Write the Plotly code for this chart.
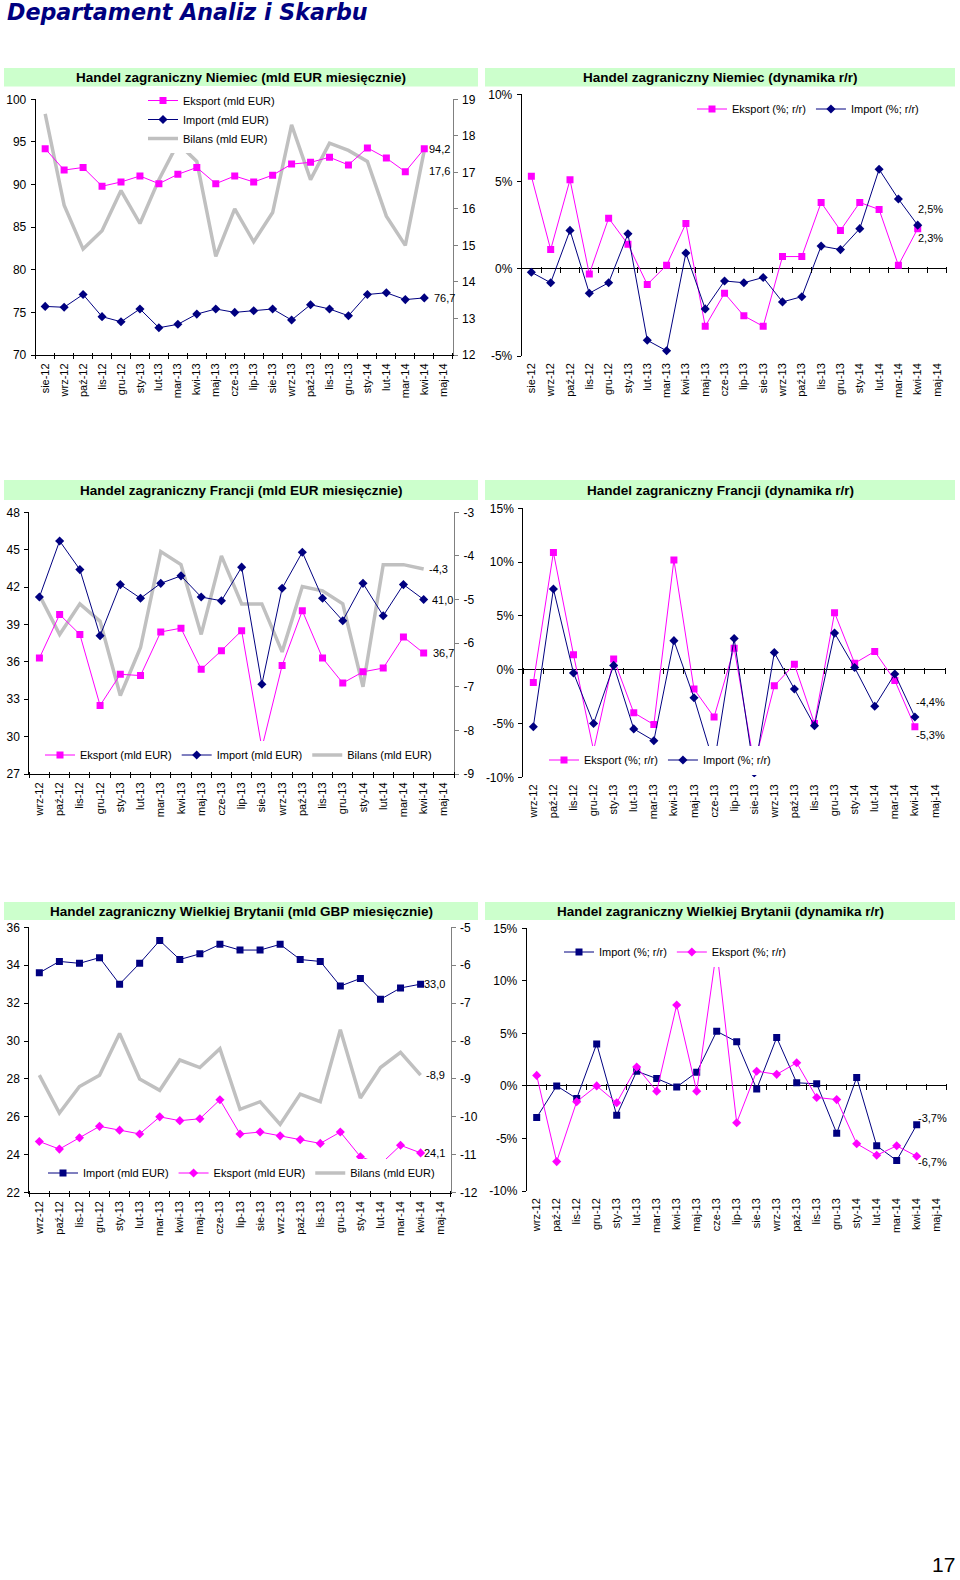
import plotly.graph_objects as go

W, H = 960, 1580
FONT = 'Liberation Sans, Arial, sans-serif'
PINK = '#ff00ff'
NAVY = '#000080'
GRAY = '#c0c0c0'
BAND = '#ccffcc'

# ---------------- data ----------------
months_de = ['sie-12', 'wrz-12', 'paź-12', 'lis-12', 'gru-12', 'sty-13', 'lut-13', 'mar-13',
             'kwi-13', 'maj-13', 'cze-13', 'lip-13', 'sie-13', 'wrz-13', 'paź-13', 'lis-13',
             'gru-13', 'sty-14', 'lut-14', 'mar-14', 'kwi-14', 'maj-14']
months_fr = ['wrz-12', 'paź-12', 'lis-12', 'gru-12', 'sty-13', 'lut-13', 'mar-13', 'kwi-13',
             'maj-13', 'cze-13', 'lip-13', 'sie-13', 'wrz-13', 'paź-13', 'lis-13', 'gru-13',
             'sty-14', 'lut-14', 'mar-14', 'kwi-14', 'maj-14']
months_uk = list(months_fr)

# Germany, bn EUR
de_exp = [94.2, 91.7, 92.0, 89.8, 90.3, 91.0, 90.1, 91.2, 92.0, 90.1, 91.0, 90.3, 91.1, 92.4,
          92.6, 93.2, 92.3, 94.3, 93.1, 91.5, 94.2]
de_imp = [75.7, 75.6, 77.1, 74.5, 73.9, 75.4, 73.2, 73.6, 74.8, 75.4, 75.0, 75.2, 75.4, 74.1,
          75.9, 75.4, 74.6, 77.1, 77.3, 76.5, 76.7]
de_bal = [18.6, 16.1, 14.9, 15.4, 16.5, 15.6, 16.8, 17.8, 17.3, 14.7, 16.0, 15.1, 15.9, 18.3,
          16.8, 17.8, 17.6, 17.3, 15.8, 15.0, 17.6]
# Germany, % y/y
de_exp_yy = [5.3, 1.1, 5.1, -0.3, 2.9, 1.4, -0.9, 0.2, 2.6, -3.3, -1.4, -2.7, -3.3, 0.7, 0.7,
             3.8, 2.2, 3.8, 3.4, 0.2, 2.3]
de_imp_yy = [-0.2, -0.8, 2.2, -1.4, -0.8, 2.0, -4.1, -4.7, 0.9, -2.3, -0.7, -0.8, -0.5, -1.9,
             -1.6, 1.3, 1.1, 2.3, 5.7, 4.0, 2.5]
# France, bn EUR
fr_exp = [36.3, 39.8, 38.2, 32.5, 35.0, 34.9, 38.4, 38.7, 35.4, 36.9, 38.5, 29.1, 35.7, 40.1,
          36.3, 34.3, 35.2, 35.5, 38.0, 36.7]
fr_imp = [41.2, 45.7, 43.4, 38.1, 42.2, 41.1, 42.3, 42.9, 41.2, 40.9, 43.6, 34.2, 41.9, 44.8,
          41.1, 39.3, 42.3, 39.7, 42.2, 41.0]
fr_bal = [-4.9, -5.8, -5.1, -5.5, -7.2, -6.1, -3.9, -4.2, -5.8, -4.0, -5.1, -5.1, -6.2, -4.7,
          -4.8, -5.1, -7.0, -4.2, -4.2, -4.3]
# France, % y/y
fr_exp_yy = [-1.2, 10.9, 1.4, -7.5, 1.0, -4.0, -5.1, 10.2, -1.8, -4.4, 2.0, -8.8, -1.5, 0.5,
             -5.0, 5.3, 0.6, 1.7, -1.0, -5.3]
fr_imp_yy = [-5.3, 7.5, -0.3, -5.0, 0.4, -5.5, -6.6, 2.7, -2.6, -8.8, 2.9, -9.6, 1.6, -1.8,
             -5.2, 3.4, 0.2, -3.4, -0.4, -4.4]
# United Kingdom, bn GBP
uk_imp = [33.6, 34.2, 34.1, 34.4, 33.0, 34.1, 35.3, 34.3, 34.6, 35.1, 34.8, 34.8, 35.1, 34.3,
          34.2, 32.9, 33.3, 32.2, 32.8, 33.0]
uk_exp = [24.7, 24.3, 24.9, 25.5, 25.3, 25.1, 26.0, 25.8, 25.9, 26.9, 25.1, 25.2, 25.0, 24.8,
          24.6, 25.2, 23.9, 23.5, 24.5, 24.1]
uk_bal = [-8.9, -9.9, -9.2, -8.9, -7.8, -9.0, -9.3, -8.5, -8.7, -8.2, -9.8, -9.6, -10.2, -9.4,
          -9.6, -7.7, -9.5, -8.7, -8.3, -8.9]
# United Kingdom, % y/y
uk_imp_yy = [-3.0, 0.0, -1.2, 4.0, -2.8, 1.4, 0.7, -0.1, 1.3, 5.2, 4.2, -0.3, 4.6, 0.3, 0.2,
             -4.5, 0.8, -5.7, -7.1, -3.7]
uk_exp_yy = [1.0, -7.2, -1.5, 0.0, -1.6, 1.8, -0.5, 7.7, -0.5, 13.0, -3.5, 1.4, 1.1, 2.2, -1.1,
             -1.3, -5.5, -6.6, -5.7, -6.7]

titles = ['Handel zagraniczny Niemiec (mld EUR miesięcznie)',
          'Handel zagraniczny Niemiec (dynamika r/r)',
          'Handel zagraniczny Francji (mld EUR miesięcznie)',
          'Handel zagraniczny Francji (dynamika r/r)',
          'Handel zagraniczny Wielkiej Brytanii (mld GBP miesięcznie)',
          'Handel zagraniczny Wielkiej Brytanii (dynamika r/r)']

# tick labels
de_left_vals = [70, 75, 80, 85, 90, 95, 100]
de_left_text = ['70', '75', '80', '85', '90', '95', '100']
de_right_vals = [12, 13, 14, 15, 16, 17, 18, 19]
de_right_text = ['12', '13', '14', '15', '16', '17', '18', '19']
de_yy_vals = [-5, 0, 5, 10]
de_yy_text = ['-5%', '0%', '5%', '10%']
fr_left_vals = [27, 30, 33, 36, 39, 42, 45, 48]
fr_left_text = ['27', '30', '33', '36', '39', '42', '45', '48']
fr_right_vals = [-9, -8, -7, -6, -5, -4, -3]
fr_right_text = ['-9', '-8', '-7', '-6', '-5', '-4', '-3']
yy15_vals = [-10, -5, 0, 5, 10, 15]
yy15_text = ['-10%', '-5%', '0%', '5%', '10%', '15%']
uk_left_vals = [22, 24, 26, 28, 30, 32, 34, 36]
uk_left_text = ['22', '24', '26', '28', '30', '32', '34', '36']
uk_right_vals = [-12, -11, -10, -9, -8, -7, -6, -5]
uk_right_text = ['-12', '-11', '-10', '-9', '-8', '-7', '-6', '-5']


# ---------------- helpers ----------------
def pad(v, n):
    return list(v) + [None] * (n - len(v))


def fx(p):
    return p / W


def fy(p):
    return 1 - p / H


def an(prefix, k):
    return prefix if k == 1 else f'{prefix}{k}'


def lk(prefix, k):
    return prefix if k == 1 else f'{prefix}{k}'


def num(v):
    return f'{v:.1f}'.replace('.', ',')


def pct(v):
    return f'{v:.1f}%'.replace('.', ',')


# plot-area geometry in pixels: x0, x1, ytop, ybottom
geo = {
    1: (35.7, 452.7, 99.3, 355.0),
    2: (521.7, 946.7, 94.3, 356.0),
    3: (29.3, 454.0, 512.3, 774.0),
    4: (523.3, 945.0, 508.3, 777.3),
    5: (29.3, 450.7, 927.3, 1192.7),
    6: (526.7, 946.7, 928.3, 1191.0),
}
bands = {1: (4, 478, 68, 86.5), 2: (485, 955, 68, 86.5),
         3: (4, 478, 480, 500), 4: (485, 955, 480, 500),
         5: (4, 478, 902, 920), 6: (485, 955, 902, 920)}
cats = {1: months_de, 2: months_de, 3: months_fr, 4: months_fr, 5: months_uk, 6: months_uk}

main_y = {
    1: ([12, 19], de_right_vals, de_right_text, 'right'),
    2: ([-5, 10], de_yy_vals, de_yy_text, 'left'),
    3: ([-9, -3], fr_right_vals, fr_right_text, 'right'),
    4: ([-10, 15], yy15_vals, yy15_text, 'left'),
    5: ([-12, -5], uk_right_vals, uk_right_text, 'right'),
    6: ([-10, 15], yy15_vals, yy15_text, 'left'),
}
left_over = {1: (7, [70, 100], de_left_vals, de_left_text),
             3: (8, [27, 48], fr_left_vals, fr_left_text),
             5: (9, [22, 36], uk_left_vals, uk_left_text)}

layout = dict(
    template='none',
    width=W, height=H, autosize=False,
    margin=dict(l=0, r=0, t=0, b=0, pad=0, autoexpand=False),
    paper_bgcolor='white', plot_bgcolor='white',
    font=dict(family=FONT, size=11, color='black'),
    showlegend=True, hovermode=False,
    shapes=[], annotations=[],
)

fig = go.Figure()

for k in range(1, 7):
    x0, x1, yt, yb = geo[k]
    xc = cats[k]
    n = len(xc)
    level = k in left_over
    rng, tv, tt, side = main_y[k]
    layout[lk('xaxis', k)] = dict(
        domain=[fx(x0), fx(x1)], anchor=an('y', k), type='category',
        categoryorder='array', categoryarray=xc, range=[-0.5, n - 0.5],
        tickangle=-90, ticks='', showline=level, linecolor='black', linewidth=1,
        tickfont=dict(size=11, family=FONT, color='black'), showgrid=False, zeroline=False,
        ticklabelstandoff=3 if level else 4, automargin=False, fixedrange=True)
    if level:
        tick_px = yb - 3
    else:
        zero_px = yt + (rng[1] / (rng[1] - rng[0])) * (yb - yt)
        tick_px = zero_px - 3
    layout[lk('xaxis', k + 6)] = dict(
        overlaying=an('x', k), anchor='free', position=fy(tick_px), side='bottom',
        type='category', categoryorder='array', categoryarray=xc, range=[-0.5, n - 0.5],
        ticks='outside', ticklen=6, tickwidth=1, tickcolor='black', tickson='boundaries',
        showticklabels=False, showline=False, showgrid=False, zeroline=False,
        automargin=False, fixedrange=True)
    ycol = '#808080' if level else 'black'
    layout[lk('yaxis', k)] = dict(
        domain=[fy(yb), fy(yt)], anchor=an('x', k), side=side, range=rng,
        tickmode='array', tickvals=tv, ticktext=tt, ticks='outside', ticklen=4,
        tickcolor=ycol, tickwidth=1, showline=True, linecolor=ycol, linewidth=1,
        showgrid=False, zeroline=not level, zerolinecolor='black', zerolinewidth=1,
        tickfont=dict(size=12, family=FONT, color='black'), ticklabelstandoff=2,
        automargin=False, fixedrange=True)
    if level:
        j, r2, v2, t2 = left_over[k]
        layout[lk('yaxis', j)] = dict(
            overlaying=an('y', k), anchor=an('x', k), side='left', range=r2,
            tickmode='array', tickvals=v2, ticktext=t2, ticks='outside', ticklen=4,
            tickcolor='black', showline=True, linecolor='black', linewidth=1,
            showgrid=False, zeroline=False, tickfont=dict(size=12, family=FONT, color='black'),
            ticklabelstandoff=2, automargin=False, fixedrange=True)
    bx0, bx1, by0, by1 = bands[k]
    layout['shapes'].append(dict(type='rect', xref='paper', yref='paper',
                                 x0=fx(bx0), x1=fx(bx1), y0=fy(by1), y1=fy(by0),
                                 fillcolor=BAND, line=dict(width=0), layer='below'))
    layout['annotations'].append(dict(
        text='<b>' + titles[k - 1] + '</b>', xref='paper', yref='paper',
        x=fx((bx0 + bx1) / 2), y=fy((by0 + by1) / 2), xanchor='center', yanchor='middle',
        showarrow=False, font=dict(size=13.5, family=FONT, color='black')))


def line_trace(x, y, xa, ya, name, leg, color, symbol, size):
    return go.Scatter(x=x, y=pad(y, len(x)), xaxis=xa, yaxis=ya, name=name, legend=leg,
                      mode='lines+markers', line=dict(color=color, width=1),
                      marker=dict(symbol=symbol, size=size, color=color,
                                  line=dict(width=0)),
                      hoverinfo='skip')


def bal_trace(x, y, xa, ya, name, leg):
    return go.Scatter(x=x, y=pad(y, len(x)), xaxis=xa, yaxis=ya, name=name, legend=leg,
                      mode='lines', line=dict(color=GRAY, width=3.5), hoverinfo='skip')


# Panel 1
fig.add_trace(line_trace(months_de, de_exp, 'x', 'y7', 'Eksport (mld EUR)', 'legend', PINK, 'square', 7))
fig.add_trace(line_trace(months_de, de_imp, 'x', 'y7', 'Import (mld EUR)', 'legend', NAVY, 'diamond', 7))
fig.add_trace(bal_trace(months_de, de_bal, 'x', 'y', 'Bilans (mld EUR)', 'legend'))
# Panel 2
fig.add_trace(line_trace(months_de, de_exp_yy, 'x2', 'y2', 'Eksport (%; r/r)', 'legend2', PINK, 'square', 7))
fig.add_trace(line_trace(months_de, de_imp_yy, 'x2', 'y2', 'Import (%; r/r)', 'legend2', NAVY, 'diamond', 7))
# Panel 3
fig.add_trace(line_trace(months_fr, fr_exp, 'x3', 'y8', 'Eksport (mld EUR)', 'legend3', PINK, 'square', 7))
fig.add_trace(line_trace(months_fr, fr_imp, 'x3', 'y8', 'Import (mld EUR)', 'legend3', NAVY, 'diamond', 7))
fig.add_trace(bal_trace(months_fr, fr_bal, 'x3', 'y3', 'Bilans (mld EUR)', 'legend3'))
# Panel 4
fig.add_trace(line_trace(months_fr, fr_exp_yy, 'x4', 'y4', 'Eksport (%; r/r)', 'legend4', PINK, 'square', 7))
fig.add_trace(line_trace(months_fr, fr_imp_yy, 'x4', 'y4', 'Import (%; r/r)', 'legend4', NAVY, 'diamond', 7))
# Panel 5
fig.add_trace(line_trace(months_uk, uk_imp, 'x5', 'y9', 'Import (mld EUR)', 'legend5', NAVY, 'square', 7))
fig.add_trace(line_trace(months_uk, uk_exp, 'x5', 'y9', 'Eksport (mld EUR)', 'legend5', PINK, 'diamond', 7))
fig.add_trace(bal_trace(months_uk, uk_bal, 'x5', 'y5', 'Bilans (mld EUR)', 'legend5'))
# Panel 6
fig.add_trace(line_trace(months_uk, uk_imp_yy, 'x6', 'y6', 'Import (%; r/r)', 'legend6', NAVY, 'square', 7))
fig.add_trace(line_trace(months_uk, uk_exp_yy, 'x6', 'y6', 'Eksport (%; r/r)', 'legend6', PINK, 'diamond', 7))

# invisible traces to carry the boundary-tick axes
for k in range(1, 7):
    xc = cats[k]
    fig.add_trace(go.Scatter(x=xc, y=[None] * len(xc), xaxis=an('x', k + 6), yaxis=an('y', k),
                             mode='markers', showlegend=False, hoverinfo='skip'))

# legends
lfont = dict(size=11, family=FONT, color='black')
layout['legend'] = dict(x=fx(143), y=fy(86), xanchor='left', yanchor='top', orientation='v',
                        font=lfont, bgcolor='white', tracegroupgap=0)
layout['legend2'] = dict(x=fx(692), y=fy(109), xanchor='left', yanchor='middle', orientation='h',
                         font=lfont, bgcolor='white')
layout['legend3'] = dict(x=fx(40), y=fy(755), xanchor='left', yanchor='middle', orientation='h',
                         font=lfont, bgcolor='white')
layout['legend4'] = dict(x=fx(544), y=fy(760), xanchor='left', yanchor='middle', orientation='h',
                         font=lfont, bgcolor='white')
layout['legend5'] = dict(x=fx(43), y=fy(1173), xanchor='left', yanchor='middle', orientation='h',
                         font=lfont, bgcolor='white')
layout['legend6'] = dict(x=fx(559), y=fy(952), xanchor='left', yanchor='middle', orientation='h',
                         font=lfont, bgcolor='white')

# end-point data labels
labels = [
    ('x', 'y7', 20, de_exp[-1], num(de_exp[-1]), 3, 0),
    ('x', 'y', 20, de_bal[-1], num(de_bal[-1]), 3, -21),
    ('x', 'y7', 20, de_imp[-1], num(de_imp[-1]), 8, 0),
    ('x2', 'y2', 20, de_imp_yy[-1], pct(de_imp_yy[-1]), -2, 16),
    ('x2', 'y2', 20, de_exp_yy[-1], pct(de_exp_yy[-1]), -2, -9),
    ('x3', 'y3', 19, fr_bal[-1], num(fr_bal[-1]), 3, 0),
    ('x3', 'y8', 19, fr_imp[-1], num(fr_imp[-1]), 6, 0),
    ('x3', 'y8', 19, fr_exp[-1], num(fr_exp[-1]), 7, 0),
    ('x4', 'y4', 19, fr_imp_yy[-1], pct(fr_imp_yy[-1]), -1, 15),
    ('x4', 'y4', 19, fr_exp_yy[-1], pct(fr_exp_yy[-1]), -1, -8),
    ('x5', 'y9', 19, uk_imp[-1], num(uk_imp[-1]), 1, 0),
    ('x5', 'y5', 19, uk_bal[-1], num(uk_bal[-1]), 3, 0),
    ('x5', 'y9', 19, uk_exp[-1], num(uk_exp[-1]), 1, 0),
    ('x6', 'y6', 19, uk_imp_yy[-1], pct(uk_imp_yy[-1]), -1, 7),
    ('x6', 'y6', 19, uk_exp_yy[-1], pct(uk_exp_yy[-1]), -1, -6),
]
for xa, ya, xi, v, t, xs, ys in labels:
    layout['annotations'].append(dict(
        text=t, xref=xa, yref=ya, x=xi, y=v, xanchor='left', yanchor='middle',
        xshift=xs, yshift=ys, showarrow=False, font=dict(size=11, family=FONT, color='black')))

# page header and page number
layout['annotations'].append(dict(
    text='<b><i>Departament Analiz i Skarbu</i></b>', xref='paper', yref='paper',
    x=fx(5), y=fy(12), xanchor='left', yanchor='middle', showarrow=False,
    font=dict(size=22.2, family='DejaVu Sans, Liberation Sans, sans-serif', color='#000080')))
layout['annotations'].append(dict(
    text='17', xref='paper', yref='paper', x=fx(956), y=fy(1577), xanchor='right',
    yanchor='bottom', showarrow=False, borderpad=0,
    font=dict(size=21, family='Liberation Sans, sans-serif', color='black')))

fig.update_layout(layout)
fig.write_html("out.html", config={'displayModeBar': False},
               post_script="document.body.style.margin='0';")
